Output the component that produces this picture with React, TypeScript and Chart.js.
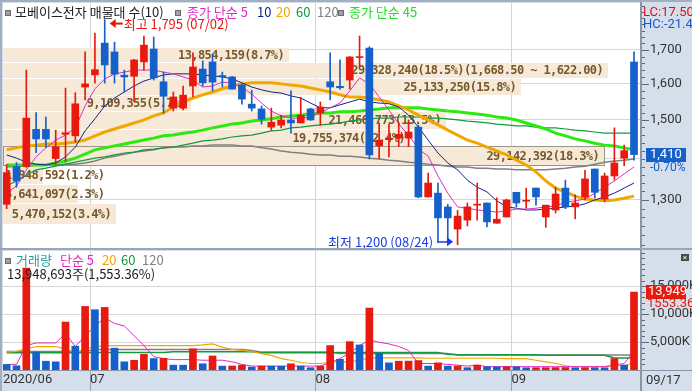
import { useEffect, useRef } from 'react';
import { Chart, registerables } from 'chart.js';

Chart.register(...registerables);

// ---------------- data ----------------
const dates = ['06/18','06/19','06/22','06/23','06/24','06/25','06/26','06/29','06/30',
  '07/01','07/02','07/03','07/06','07/07','07/08','07/09','07/10','07/13','07/14','07/15','07/16','07/17','07/20','07/21','07/22','07/23','07/24','07/27','07/28','07/29','07/30','07/31',
  '08/03','08/04','08/05','08/06','08/07','08/10','08/11','08/12','08/13','08/14','08/18','08/19','08/20','08/21','08/24','08/25','08/26','08/27','08/28','08/31',
  '09/01','09/02','09/03','09/04','09/07','09/08','09/09','09/10','09/11','09/14','09/15','09/16','09/17'];
const startLabel = '2020/06';

const open = [1290,1380,1380,1475,1475,1400,1462,1458,1591,1626, 1721,1694,1625,1622,1664,1703,1606,1532,1532,1594, 1643,1664,1624,1620,1597,1543,1530,1481,1486,1500, 1492,1530,1519,1606,1593,1611,1677,1706,1432,1448, 1452,1452,1481,1307,1316,1284,1234,1254,1288,1293, 1247,1261,1318,1297,1328,1261,1277,1328,1284,1307, 1374,1302,1357,1401,1664];
const high = [1385,1390,1640,1520,1508,1473,1588,1575,1694,1752, 1795,1724,1640,1672,1743,1740,1634,1577,1594,1691, 1667,1688,1634,1622,1600,1582,1538,1532,1513,1580, 1562,1532,1549,1691,1670,1680,1743,1710,1492,1489, 1492,1500,1486,1364,1340,1290,1276,1293,1340,1293, 1305,1302,1318,1328,1328,1288,1330,1347,1312,1371, 1374,1364,1479,1434,1694];
const low = [1280,1330,1378,1415,1428,1385,1392,1441,1555,1602, 1602,1602,1577,1550,1640,1611,1518,1524,1527,1563, 1594,1580,1591,1585,1543,1524,1489,1473,1479,1465, 1492,1499,1486,1555,1585,1585,1650,1399,1399,1404, 1430,1430,1305,1307,1206,1206,1200,1241,1254,1239, 1247,1261,1284,1281,1288,1238,1270,1280,1257,1300, 1305,1296,1347,1382,1396];
const close = [1365,1345,1505,1450,1450,1430,1466,1544,1600,1641, 1655,1628,1620,1670,1715,1617,1565,1563,1568,1649, 1603,1605,1620,1585,1557,1532,1502,1494,1500,1492, 1513,1500,1535,1591,1589,1679,1680,1409,1447,1452, 1462,1468,1307,1340,1259,1259,1263,1284,1290,1250, 1256,1300,1293,1299,1307,1288,1314,1284,1293,1350, 1318,1357,1389,1420,1410];
const volume = [1000000,760000,18260000,3210000,1575000,1460000,8575000,4260000,11375000,10790000, 11200000,3910000,1460000,1750000,2800000,2050000,2100000,875000,860000,3790000, 1110000,2510000,700000,720000,875000,525000,700000,690000,680000,1110000, 700000,410000,700000,4375000,1925000,5075000,4490000,11080000,3035000,1285000, 1575000,1590000,1690000,700000,1285000,700000,720000,410000,875000,585000, 570000,590000,580000,400000,410000,420000,430000,440000,400000,420000, 410000,400000,2040000,897969,13948693];

const ma5 = [1316,1333,1372,1404,1427,1447,1460,1479,1538,1586, 1614,1629,1634,1640,1640,1640,1634,1629,1620,1611, 1591,1594,1605,1603,1591,1571,1546,1524,1511,1505, 1505,1508,1519,1533,1546,1580,1617,1600,1563,1527, 1489,1460,1424,1406,1357,1316,1284,1281,1277,1275, 1272,1275,1279,1279,1281,1284,1286,1295,1298,1302, 1316,1330,1345,1362,1379];
const ma10 = [1409,1401,1391,1386,1384,1389,1404,1429,1471,1503, 1538,1560,1577,1594,1608,1617,1626,1629,1629,1629, 1626,1623,1620,1614,1603,1591,1583,1577,1574,1566, 1560,1546,1533,1533,1541,1549,1557,1549,1546,1544, 1535,1513,1481,1447,1414,1389,1372,1347,1330,1319, 1298,1284,1281,1277,1277,1279,1281,1284,1286,1291, 1300,1307,1316,1328,1340];
const ma20 = [1422,1427,1432,1434,1437,1437,1439,1442,1447,1458, 1468,1476,1484,1492,1500,1511,1519,1535,1549,1560, 1569,1577,1586,1594,1600,1603,1603,1603,1600,1597, 1594,1588,1583,1577,1569,1563,1563,1560,1555,1549, 1538,1527,1513,1500,1487,1473,1460,1447,1439,1429, 1419,1409,1396,1384,1367,1345,1328,1319,1309,1302, 1300,1298,1300,1304,1309];
const ma45 = [1384,1384,1384,1384,1384,1389,1394,1401,1411,1422, 1427,1432,1437,1442,1447,1452,1458,1460,1465,1468, 1473,1479,1484,1489,1492,1497,1500,1503,1508,1511, 1513,1516,1519,1519,1522,1522,1524,1527,1530,1533, 1533,1533,1533,1530,1527,1524,1522,1519,1516,1513, 1508,1505,1500,1492,1484,1476,1465,1458,1450,1445, 1439,1434,1432,1427,1422];
const ma60 = [1333,1345,1359,1372,1376,1381,1386,1391,1396,1401, 1404,1409,1414,1416,1422,1424,1427,1429,1434,1439, 1445,1447,1450,1455,1458,1460,1465,1471,1473,1479, 1481,1484,1487,1489,1492,1497,1500,1503,1505,1505, 1508,1508,1508,1505,1505,1503,1500,1497,1495,1492, 1489,1487,1484,1484,1481,1479,1479,1476,1473,1471, 1468,1465,1465,1465,1465];
const ma120 = [1379,1381,1381,1384,1384,1384,1386,1386,1389,1394, 1401,1406,1411,1416,1419,1422,1427,1429,1429,1432, 1432,1434,1434,1434,1432,1432,1427,1424,1419,1416, 1414,1411,1409,1409,1406,1406,1404,1401,1399,1396, 1394,1391,1389,1386,1384,1381,1379,1379,1376,1376, 1374,1374,1372,1372,1372,1372,1374,1376,1379,1381, 1386,1391,1394,1396,1399];

const volMa5 = [1000,1000,4375,4840,4840,4840,6530,4200,6125,7875, 9333,8340,7875,6125,4375,2400,2040,1860,1860,1860, 1750,1750,1750,1460,1000,700,700,700,700,700, 700,700,700,1340,2040,3035,4375,5366,4960,4670, 4200,3500,1166,1166,1166,1000,875,700,875,600, 600,600,600,600,600,600,600,600,600,600, 600,600,875,1166,3400];
const volMa20 = [3210,3330,3790,4200,4200,4200,3790,3090,3790,4200, 4375,4375,4375,4375,4375,4375,4375,4375,4375,4375, 4500,4666,4083,3675,3500,3325,2916,2625,2041,1750, 1341,1166,1166,1341,1458,1458,1750,2158,2158,2158, 2158,2158,2158,2100,2100,2100,2100,2100,2100,2100, 2100,2041,2041,2041,1750,1458,1166,758,583,583, 600,650,758,758,1283];
const volMa60 = [3080,3080,3080,3080,3080,3080,3080,3080,3080,3150, 3150,3150,3150,3150,3150,3150,3150,3250,3250,3250, 3250,3250,3250,3250,3250,3250,3080,3080,3080,3080, 3080,3080,3080,3080,3150,3150,3150,3150,3150,3150, 3150,3150,3150,3150,3150,2830,2750,2750,2750,2750, 2750,2750,2750,2750,2750,2650,2650,2650,2650,2650, 2650,2650,2160,2160,2160];
const volMa120 = [3325,3325,3325,3325,3325,3325,3325,3325,3325,3675, 3675,3675,3675,3675,3675,3675,3675,3675,3675,3675, 3675,3675,3675,3675,3675,3500,3200,3200,3200,3200, 3200,3200,3200,3200,2950,2950,2950,2950,2950,2950, 2950,2950,2950,2950,2950,2950,2700,2700,2700,2700, 2700,2700,2700,2700,2700,2700,2700,2700,2700,2700, 2700,2700,2700,2700,2700];

const bandEdges = [1715, 1668.5, 1622, 1575.5, 1529, 1482.5, 1436, 1389.5, 1343, 1296.5, 1250];
const bandVolume = [13854159, 29328240, 25133250, 9109355, 21466773, 19755374, 29142392, 1948592, 3641097, 5470152];
const bandPct = [8.7, 18.5, 15.8, 5.7, 13.5, 12.4, 18.3, 1.2, 2.3, 3.4];

const priceTicks = [1300, 1400, 1500, 1600, 1700];
const priceTickLabels = [1300, 1500, 1600, 1700];
const volumeTicks = [5000000, 10000000, 15000000];

// ---------------- style ----------------
const UP = '#e8190e';
const DOWN = '#1560c9';
const KR = "'Noto Sans CJK KR', 'Noto Sans', sans-serif";
const NUM = "'Liberation Sans Narrow', Roboto, 'DejaVu Sans', sans-serif";
const MONO = "'DejaVu Sans Mono', 'Liberation Mono', monospace";
const C5 = '#e02cc8', C10 = '#0c2590', C20 = '#f0a800', C45 = '#2ee812', C60 = '#149a3e', C120 = '#808080';

const X_MIN = -0.3775;
const X_MAX = 64.714;
const P_MIN = 1193;
const P_MAX = 1849;
const V_MAX = 21300000;

const fmt = (n: number, d = 0) => n.toLocaleString('en-US', { minimumFractionDigits: d, maximumFractionDigits: d });

const last = close.length - 1;
const idx = dates.map((_, i) => i);
const candleColor = idx.map(i => (close[i] >= open[i] ? UP : DOWN));
const volColor = idx.map(i => (i > 0 && volume[i] >= volume[i - 1] ? UP : DOWN));
const monthStarts = idx.filter(i => i > 0 && dates[i].slice(0, 2) !== dates[i - 1].slice(0, 2));
const xTickValues = [X_MIN, ...monthStarts.map(i => i - 0.5)];
const xTickLabels = [startLabel, ...monthStarts.map(i => dates[i].slice(0, 2))];

const maxHigh = Math.max(...high);
const minLow = Math.min(...low);
const lcPct = ((close[last] - minLow) / minLow) * 100;
const hcPct = ((close[last] - maxHigh) / maxHigh) * 100;
const chgPct = ((close[last] - close[last - 1]) / close[last - 1]) * 100;
const volPct = (volume[last] / volume[last - 1]) * 100;

const lineDs = (data: number[], color: string, width: number, order: number) => ({
  type: 'line' as const,
  data: data.map((v, i) => ({ x: i, y: v })),
  borderColor: color,
  borderWidth: width,
  pointRadius: 0,
  tension: 0,
  order,
});

const noPad = (s: any) => { s.paddingTop = 0; s.paddingBottom = 0; s.paddingLeft = 0; s.paddingRight = 0; };

const xScale = (show: boolean) => ({
  type: 'linear' as const,
  min: X_MIN,
  max: X_MAX,
  bounds: 'data' as const,
  offset: false,
  afterBuildTicks: (s: any) => { s.ticks = xTickValues.map(v => ({ value: v })); },
  afterFit: (s: any) => { s.height = show ? 21 : 0; noPad(s); },
  grid: {
    offset: false,
    color: (c: any) => (c.index === 0 ? 'rgba(0,0,0,0)' : '#d4d4d4'),
    drawTicks: show,
    tickLength: 21,
    tickColor: (c: any) => (c.index === 0 ? 'rgba(0,0,0,0)' : '#98a3b2'),
  },
  border: { display: show, color: '#8a96a6', width: 1 },
  ticks: {
    display: show, autoSkip: false, maxRotation: 0, minRotation: 0, align: 'start' as const,
    padding: -19, font: { family: NUM, size: 13 }, color: '#333',
    callback: (_v: any, i: number) => xTickLabels[i],
  },
});

const whiteArea = {
  id: 'whiteArea',
  beforeDraw(chart: any) {
    const { ctx, chartArea: a } = chart;
    ctx.save();
    ctx.fillStyle = '#ffffff';
    ctx.fillRect(a.left, a.top, a.right - a.left, a.bottom - a.top);
    ctx.restore();
  },
};

const pricePlugin = {
  id: 'pricePanel',
  beforeDatasetsDraw(chart: any) {
    const { ctx, chartArea: a, scales } = chart;
    const y = scales.y;
    const maxVol = Math.max(...bandVolume);
    const full = (a.right - a.left) * 0.948;
    ctx.save();
    ctx.font = `bold 12px ${MONO}`;
    try { (ctx as any).letterSpacing = '-0.6px'; } catch (e) { /* ignore */ }
    ctx.textBaseline = 'middle';
    for (let k = 0; k < bandVolume.length; k++) {
      const hi = bandEdges[k];
      const lo = bandEdges[k + 1];
      const t = Math.round(y.getPixelForValue(hi)) + 2;
      const b = Math.round(y.getPixelForValue(lo)) + 2;
      const w = Math.round((bandVolume[k] / maxVol) * full);
      ctx.fillStyle = '#f6e9d8';
      ctx.fillRect(a.left, t + 1, w, b - t - 1);
      if (close[last] <= hi && close[last] > lo) {
        ctx.strokeStyle = '#9c9485';
        ctx.lineWidth = 1;
        ctx.strokeRect(a.left + 0.5, t + 0.5, w, b - t);
      }
      let text = `${fmt(bandVolume[k])}(${bandPct[k].toFixed(1)}%)`;
      if (bandVolume[k] === maxVol) text += `(${fmt(hi, 2)} ~ ${fmt(lo, 2)})`;
      const tw = ctx.measureText(text).width;
      const tx = Math.max(a.left + 2, a.left + w - 5 - tw);
      ctx.fillStyle = '#76582a';
      ctx.fillText(text, tx, (t + b) / 2 + 1);
    }
    ctx.restore();
  },
  afterDatasetsDraw(chart: any) {
    const { ctx, scales } = chart;
    const { x, y } = scales;
    const hiI = high.indexOf(maxHigh);
    const loI = low.indexOf(minLow);
    ctx.save();
    ctx.font = `13px ${KR}`;
    ctx.textBaseline = 'middle';
    let px = x.getPixelForValue(hiI) + 5;
    let py = y.getPixelForValue(high[hiI]) + 4;
    ctx.fillStyle = '#e8160c';
    ctx.beginPath(); ctx.moveTo(px, py); ctx.lineTo(px + 6, py - 4.5); ctx.lineTo(px + 6, py + 4.5); ctx.closePath(); ctx.fill();
    ctx.fillRect(px + 5, py - 1, 8, 2);
    ctx.textAlign = 'left';
    ctx.fillText(`최고 ${fmt(high[hiI])} (${dates[hiI]})`, px + 14, py);
    px = x.getPixelForValue(loI) - 4.5;
    py = y.getPixelForValue(low[loI]) - 3;
    ctx.fillStyle = '#1a3ce0';
    ctx.beginPath(); ctx.moveTo(px, py); ctx.lineTo(px - 6, py - 4.5); ctx.lineTo(px - 6, py + 4.5); ctx.closePath(); ctx.fill();
    ctx.fillRect(px - 16, py - 0.5, 11, 1.5);
    ctx.textAlign = 'right';
    ctx.fillText(`최저 ${fmt(low[loI])} (${dates[loI]})`, px - 20, py);
    ctx.restore();
  },
  afterDraw(chart: any) {
    const { ctx, chartArea: a, scales } = chart;
    const y = scales.y;
    ctx.save();
    ctx.strokeStyle = '#5c6672';
    ctx.lineWidth = 1;
    for (let v = 1200; v <= 1840; v += 20) {
      const py = Math.round(y.getPixelForValue(v)) + 0.5;
      if (py < a.top || py > a.bottom) continue;
      const len = priceTickLabels.includes(v) ? 7 : 3;
      ctx.beginPath(); ctx.moveTo(a.right + 1, py); ctx.lineTo(a.right + 1 + len, py); ctx.stroke();
    }
    const py = Math.round(y.getPixelForValue(close[last]));
    const tagColor = close[last] >= close[last - 1] ? UP : DOWN;
    ctx.fillStyle = tagColor;
    ctx.fillRect(a.right + 5, py - 7, 40, 14);
    ctx.fillStyle = '#fff';
    ctx.font = `13px ${NUM}`;
    ctx.textBaseline = 'middle';
    ctx.textAlign = 'left';
    ctx.fillText(fmt(close[last]), a.right + 9, py);
    ctx.fillStyle = tagColor;
    ctx.font = `12px ${NUM}`;
    ctx.fillText(`${chgPct.toFixed(2)}%`, a.right + 9, py + 13);
    ctx.restore();
  },
};

const volPlugin = {
  id: 'volPanel',
  afterDraw(chart: any) {
    const { ctx, chartArea: a, scales } = chart;
    const y = scales.y;
    ctx.save();
    ctx.strokeStyle = '#5c6672';
    ctx.lineWidth = 1;
    for (let v = 0; v <= V_MAX; v += 1000000) {
      const py = Math.round(y.getPixelForValue(v)) + 0.5;
      if (py < a.top || py > a.bottom) continue;
      const len = volumeTicks.includes(v) ? 7 : 3;
      ctx.beginPath(); ctx.moveTo(a.right + 1, py); ctx.lineTo(a.right + 1 + len, py); ctx.stroke();
    }
    const py = Math.round(y.getPixelForValue(volume[last]));
    ctx.fillStyle = UP;
    ctx.fillRect(a.right + 5, py - 7, 40, 14);
    ctx.save();
    ctx.beginPath(); ctx.rect(a.right + 5, py - 7, 40, 14); ctx.clip();
    ctx.fillStyle = '#fff';
    ctx.font = `13px ${NUM}`;
    ctx.textBaseline = 'middle';
    ctx.textAlign = 'left';
    ctx.fillText(fmt(Math.round(volume[last] / 1000)), a.right + 7, py);
    ctx.restore();
    ctx.fillStyle = UP;
    ctx.font = `13px ${NUM}`;
    ctx.textBaseline = 'middle';
    ctx.fillText(`${volPct.toFixed(2)}%`, a.right + 6, py + 12);
    ctx.restore();
  },
};

function Txt(props: { x: number; y: number; c: string; f?: string; s?: number; t: string }) {
  const s = props.s ?? 13;
  return (
    <div style={{ position: 'absolute', left: props.x, top: props.y, color: props.c, fontFamily: props.f ?? KR, fontSize: s, lineHeight: '16px', whiteSpace: 'nowrap' }}>{props.t}</div>
  );
}
function Sq(props: { x: number; y: number }) {
  return <div style={{ position: 'absolute', left: props.x, top: props.y, width: 4, height: 4, background: '#a0a0a0', border: '1px solid #6a6a6a' }} />;
}
function Ln(props: { x: number; y: number; w: number; h: number; c: string }) {
  return <div style={{ position: 'absolute', left: props.x, top: props.y, width: props.w, height: props.h, background: props.c }} />;
}

export default function App() {
  const pRef = useRef<HTMLCanvasElement>(null);
  const vRef = useRef<HTMLCanvasElement>(null);

  useEffect(() => {
    const pc = new Chart(pRef.current as HTMLCanvasElement, {
      type: 'bar',
      data: {
        datasets: [
          { type: 'bar', data: idx.map(i => ({ x: i, y: [low[i], high[i]] })), backgroundColor: candleColor, barThickness: 1, grouped: false, order: 0, borderWidth: 0 } as any,
          { type: 'bar', data: idx.map(i => ({ x: i, y: [open[i], close[i]] })), backgroundColor: candleColor, barThickness: 7, minBarLength: 1, grouped: false, order: 0, borderWidth: 0 } as any,
          lineDs(ma5, C5, 1, 1),
          lineDs(ma10, C10, 1, 2),
          lineDs(ma20, C20, 3, 3),
          lineDs(ma45, C45, 3, 4),
          lineDs(ma60, C60, 1.2, 5),
          lineDs(ma120, C120, 1.5, 6),
        ],
      },
      options: {
        animation: false,
        responsive: false,
        maintainAspectRatio: false,
        events: [],
        layout: { padding: { left: 3, top: 3, right: 0, bottom: 1 } },
        plugins: { legend: { display: false }, tooltip: { enabled: false } },
        scales: {
          x: xScale(false) as any,
          y: {
            type: 'logarithmic',
            position: 'right',
            min: P_MIN,
            max: P_MAX,
            bounds: 'data',
            beginAtZero: false,
            afterBuildTicks: (s: any) => { s.ticks = priceTicks.map(v => ({ value: v })); },
            afterFit: (s: any) => { s.width = 51; noPad(s); },
            grid: { color: '#d6d6d6', drawTicks: false },
            border: { display: true, color: '#8a96a6', width: 2 },
            ticks: {
              autoSkip: false, padding: 9, font: { family: NUM, size: 13 }, color: '#333',
              callback: (v: any) => (priceTickLabels.includes(Number(v)) ? fmt(Number(v)) : ''),
            },
          } as any,
        },
      },
      plugins: [whiteArea, pricePlugin],
    });

    const vc = new Chart(vRef.current as HTMLCanvasElement, {
      type: 'bar',
      data: {
        datasets: [
          { type: 'bar', data: idx.map(i => ({ x: i, y: volume[i] })), backgroundColor: volColor, barThickness: 7, grouped: false, order: 0, borderWidth: 0 } as any,
          lineDs(volMa5.map(v => v * 1000), C5, 1, 1),
          lineDs(volMa20.map(v => v * 1000), C20, 1.2, 2),
          lineDs(volMa60.map(v => v * 1000), C60, 1.5, 3),
          lineDs(volMa120.map(v => v * 1000), C120, 1.5, 4),
        ],
      },
      options: {
        animation: false,
        responsive: false,
        maintainAspectRatio: false,
        events: [],
        layout: { padding: { left: 3, top: 2, right: 0, bottom: 0 } },
        plugins: { legend: { display: false }, tooltip: { enabled: false } },
        scales: {
          x: xScale(true) as any,
          y: {
            type: 'linear',
            position: 'right',
            min: 0,
            max: V_MAX,
            bounds: 'data',
            afterBuildTicks: (s: any) => { s.ticks = volumeTicks.map(v => ({ value: v })); },
            afterFit: (s: any) => { s.width = 51; noPad(s); },
            grid: { color: '#d6d6d6', drawTicks: false },
            border: { display: true, color: '#8a96a6', width: 2 },
            ticks: {
              autoSkip: false, padding: 9, font: { family: NUM, size: 13 }, color: '#333',
              callback: (v: any) => `${fmt(Number(v) / 1000)}K`,
            },
          } as any,
        },
      },
      plugins: [whiteArea, volPlugin],
    });

    return () => { pc.destroy(); vc.destroy(); };
  }, []);

  return (
    <div style={{ position: 'fixed', left: 0, top: 0, width: 692, height: 391, background: '#d5dfeb', overflow: 'hidden' }}>
      <canvas ref={pRef} width={692} height={249} style={{ position: 'absolute', left: 0, top: 0, width: 692, height: 249 }} />
      <canvas ref={vRef} width={692} height={142} style={{ position: 'absolute', left: 0, top: 249, width: 692, height: 142 }} />

      <Ln x={0} y={0} w={692} h={2} c="#a3afbf" />
      <Ln x={0} y={0} w={2} h={391} c="#a3afbf" />
      <Ln x={0} y={248} w={692} h={2} c="#9ba6b5" />
      <Ln x={641} y={370} w={51} h={1} c="#8a96a6" />
      <Ln x={640} y={370} w={2} h={21} c="#8a96a6" />

      {/* price header */}
      <Sq x={5} y={10} />
      <Txt x={15} y={4} c="#222" t="모베이스전자 매물대 수(10)" />
      <Sq x={175} y={10} />
      <Txt x={187} y={4} c={C5} t="종가 단순 5" />
      <Txt x={257} y={4} c={C10} t="10" />
      <Txt x={276} y={4} c={C20} t="20" />
      <Txt x={296} y={4} c={C60} t="60" />
      <Txt x={317} y={4} c={C120} t="120" />
      <Sq x={338} y={10} />
      <Txt x={349} y={4} c="#22dd22" t="종가 단순 45" />

      {/* right panel info */}
      <Txt x={643} y={4} c="#e01010" f={NUM} s={13} t={`LC:${lcPct.toFixed(2)}%`} />
      <Txt x={643} y={16} c="#1a56d0" f={NUM} s={13} t={`HC:${hcPct.toFixed(2)}%`} />

      {/* volume header */}
      <Sq x={5} y={258} />
      <Txt x={16} y={252} c="#2e9c9c" t="거래량" />
      <Txt x={60} y={252} c={C5} t="단순 5" />
      <Txt x={102} y={252} c={C20} t="20" />
      <Txt x={121} y={252} c={C60} t="60" />
      <Txt x={142} y={252} c={C120} t="120" />
      <Txt x={7} y={266} c="#222" t={`${fmt(volume[last])}주(${fmt(volPct, 2)}%)`} />
      <div style={{ position: 'absolute', left: 681, top: 254, width: 8, height: 7, background: '#4a4a4a', color: '#fff', fontSize: 8, lineHeight: '7px', textAlign: 'center', fontFamily: NUM }}>×</div>

      <Txt x={646} y={372} c="#333" f={NUM} s={13} t={dates[last]} />
    </div>
  );
}
